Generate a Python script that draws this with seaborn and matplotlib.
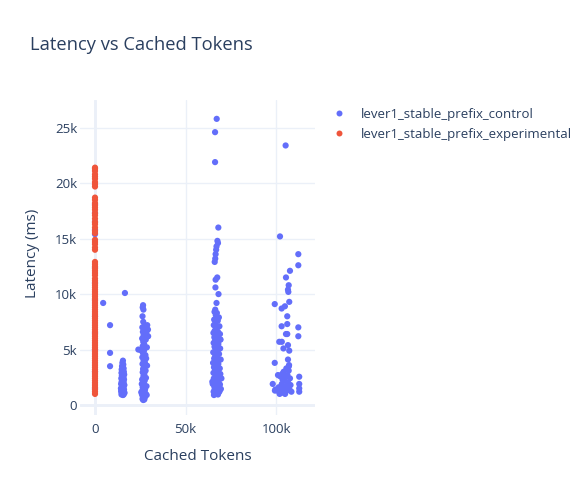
import matplotlib
matplotlib.use("Agg")
import matplotlib.pyplot as plt
import seaborn as sns
import pandas as pd
from matplotlib.lines import Line2D

# ---------------- data ----------------
series_names = ["lever1_stable_prefix_control", "lever1_stable_prefix_experimental"]
series_colors = ["#636EFA", "#EF553B"]

ctrl_tokens = [
    # x = 0 column (mostly hidden)
    0, 0, 0, 0, 0, 0, 0, 0, 0, 0, 0, 0, 0,
    # stragglers
    4500, 8300, 8300, 8300, 16500,
    # cluster ~15k
    15400, 15100, 15600, 14900, 15300, 15800, 14700, 15200, 15900, 14600, 15500,
    16100, 14800, 15300, 15700, 14500, 15000, 16000, 15400, 14700, 15800, 15100,
    14400, 15600, 16200, 14900, 15300, 15700, 14600, 15100, 16000, 14800, 15500,
    14400, 15900, 15200, 14700, 15600, 15000, 14600, 15400, 15800, 16300, 14300,
    # cluster ~27k
    26500, 26300, 26700, 26200, 26600, 28800, 27200, 26100, 29200, 27600, 26400,
    28300, 26800, 29300, 27400, 26000, 28000, 26600, 27100, 26300, 28600, 23900,
    25200, 27000, 26400, 27800, 26100, 28200, 26800, 27500, 26200, 28700, 27000,
    26500, 27900, 26300, 27200, 26700, 28100, 26000, 27400, 26600, 25800, 27100,
    28400, 26300, 26900, 27600, 26100, 27300, 26600, 28000, 25900, 27000, 26400,
    27500, 26800, 26200, 27200, 26600, 28500, 25500,
    # cluster ~67k
    67100, 66200, 66200, 68000, 67500, 67800, 67000, 66800, 66500, 66300, 66000,
    67400, 66500, 66400, 68100, 67000, 66300, 65900, 67200, 66600, 68300, 65700,
    67700, 66400, 65500, 68600, 67000, 66000, 67800, 65300, 68900, 66700, 65800,
    67400, 69200, 66200, 65400, 68000, 67000, 65900, 69000, 66500, 67600, 65200,
    68400, 66300, 67200, 65700, 69300, 66800, 65100, 68000, 67000, 65600, 68800,
    66200, 67600, 65300, 69100, 66600, 67900, 65500, 68500, 66100, 67300, 64900,
    68900, 66700, 65800, 67700, 69400, 66000, 67100, 65400, 68300, 66500, 67800,
    65600, 68700, 69700, 64700, 69000, 67500, 66400,
    # cluster ~100k+
    105100, 102000, 112100, 112100, 107500, 105300, 106800, 106400, 106600, 99100,
    107100, 104700, 102900, 106000, 102900, 106000, 112100, 105300, 106000, 112100,
    101600, 103000, 103900, 107100, 106400, 99100, 106400, 112600, 102000, 107000,
    105500, 104000, 103200, 106800, 100900, 98000, 99500, 100500, 101300, 102300,
    103000, 103700, 104400, 105200, 105800, 106500, 107200, 107800, 108300, 105000,
    106100, 104000, 101800, 112600, 112600, 112600, 99200, 103400, 107500, 106900,
    104800,
]
ctrl_latency = [
    18100, 17300, 16500, 15800, 15400, 12400, 11000, 9500, 8000, 6500, 5000, 3000, 1500,
    9200, 7200, 4700, 3500, 10100,
    4000, 3800, 3650, 3500, 3400, 3300, 3200, 3100, 3000, 2900, 2850,
    2750, 2650, 2600, 2500, 2400, 2350, 2300, 2200, 2100, 2050, 2000,
    1900, 1850, 1800, 1700, 1650, 1600, 1500, 1450, 1400, 1350, 1300,
    1250, 1200, 1150, 1100, 1050, 1000, 950, 900, 950, 1100, 1500,
    9000, 8800, 8600, 8000, 7500, 7200, 7100, 7000, 6800, 6700, 6600,
    6500, 6300, 6200, 6100, 6000, 5900, 5700, 5500, 5300, 5200, 5000,
    4950, 4900, 4700, 4500, 4300, 4200, 4000, 3850, 3700, 3550, 3400,
    3250, 3100, 2950, 2800, 2600, 2450, 2300, 2200, 2050, 1900, 1800,
    1700, 1600, 1500, 1400, 1300, 1200, 1100, 1000, 950, 850, 750,
    700, 600, 550, 500, 450, 900, 1150,
    25800, 24600, 21900, 16000, 14800, 14600, 14300, 14000, 13600, 13200, 12900,
    11500, 11300, 10600, 10000, 9200, 8600, 8400, 8300, 8100, 7900, 7700,
    7600, 7400, 7200, 7100, 6900, 6700, 6600, 6500, 6400, 6300, 6100,
    6000, 5900, 5800, 5600, 5500, 5400, 5250, 5100, 5000, 4900, 4750,
    4600, 4500, 4350, 4200, 4100, 3950, 3800, 3700, 3550, 3400, 3300,
    3150, 3000, 2900, 2800, 2650, 2500, 2400, 2300, 2150, 2000, 1900,
    1850, 1750, 1650, 1550, 1450, 1400, 1300, 1200, 1150, 1050, 950,
    900, 1250, 2400, 2100, 5900, 4000, 2800,
    23400, 15200, 13600, 12600, 12100, 11500, 10800, 10400, 10200, 9100,
    9300, 8900, 8700, 8000, 7100, 7300, 7000, 6400, 6400, 6200,
    5700, 5700, 5100, 4900, 5400, 3800, 4100, 2550, 2600, 3600,
    3300, 3000, 2800, 3100, 2700, 1900, 1400, 1300, 1600, 1200,
    1900, 1500, 2200, 1700, 1300, 2000, 1400, 1800, 1200, 2500,
    2700, 1100, 1000, 1900, 1500, 1200, 1300, 2300, 2400, 3500,
    1000,
]

exp_latency = [
    21400, 21300, 21100, 20800, 20600, 20400, 20100, 19900, 19700, 18700, 18500,
    18200, 18000, 17800, 17600, 17300, 17100, 16800, 16500, 16300, 16000, 15700,
    15500, 14900, 14700, 14500, 14200, 14000, 12900, 12700, 12500, 12300, 12100,
    11900, 11700, 11400, 11200, 11000, 10800, 10600, 10400, 10200, 10000, 9800,
    9600, 9400, 9200, 9000, 8800, 8600, 8400, 8200, 8000, 7800, 7600, 7400, 7200,
    7000, 6800, 6600, 6400, 6200, 6000, 5800, 5600, 5400, 5200, 5000, 4800, 4600,
    4400, 4200, 4000, 3800, 3600, 3400, 3200, 3000, 2800, 2600, 2400, 2200, 2000,
    1800, 1600, 1400, 1200, 1000,
]
exp_tokens = [0] * len(exp_latency)

x_ticks = [0, 50000, 100000]
x_tick_labels = ["0", "50k", "100k"]
y_ticks = [0, 5000, 10000, 15000, 20000, 25000]
y_tick_labels = ["0", "5k", "10k", "15k", "20k", "25k"]

df = pd.DataFrame({
    "tokens": ctrl_tokens + exp_tokens,
    "latency": ctrl_latency + exp_latency,
    "run": [series_names[0]] * len(ctrl_tokens) + [series_names[1]] * len(exp_tokens),
})

# ---------------- plot ----------------
sns.set_theme(style="white")
plt.rcParams['font.family'] = ['Open Sans', 'DejaVu Sans']
TXT = "#2a3f5f"
GRID = "#EBF0F8"
FS_TICK = 9.5
FS_AXIS = 11.0
FS_TITLE = 13.2

fig = plt.figure(figsize=(5.86, 5.0), dpi=100)
ax = fig.add_axes([80 / 586, 85 / 500, 235 / 586, 315 / 500])
ax.set_xlim(-8270, 121300)
ax.set_ylim(-900, 27500)

ax.set_xticks(x_ticks)
ax.set_xticklabels(x_tick_labels)
ax.set_yticks(y_ticks)
ax.set_yticklabels(y_tick_labels)
ax.grid(True, color=GRID, lw=1, zorder=0)
ax.set_axisbelow(True)
ax.axvline(0, color=GRID, lw=2, zorder=0.5)
ax.axhline(0, color=GRID, lw=2, zorder=0.5)
for s in ax.spines.values():
    s.set_visible(False)
ax.tick_params(axis="both", length=0, labelsize=FS_TICK, colors=TXT)
ax.tick_params(axis="x", pad=6)
ax.tick_params(axis="y", pad=2)

sns.scatterplot(data=df, x="tokens", y="latency", hue="run", hue_order=series_names,
                palette=series_colors, s=20, linewidth=0, alpha=1, ax=ax,
                legend=False, zorder=3)

ax.set_xlabel("Cached Tokens", fontsize=FS_AXIS, color=TXT, va="center")
ax.set_ylabel("Latency (ms)", fontsize=FS_AXIS, color=TXT, va="center")
ax.xaxis.set_label_coords(0.5, (415 - 456) / 315)
ax.yaxis.set_label_coords((33 - 80) / 235, (415 - 253) / 315)

fig.text(30 / 586, 1 - 45 / 500, "Latency vs Cached Tokens", fontsize=FS_TITLE,
         color=TXT, va="center", ha="left")

handles = [Line2D([0], [0], marker="o", linestyle="", markersize=4.3,
                  markerfacecolor=c, markeredgewidth=0) for c in series_colors]
fig.legend(handles, series_names, loc="upper left",
           bbox_to_anchor=(332 / 586, 1 - 108 / 500), frameon=False,
           fontsize=FS_TICK, labelcolor=TXT, handlelength=1.0, handletextpad=1.2,
           borderpad=0, borderaxespad=0, labelspacing=0.5)

fig.savefig("out.png", dpi=100)
